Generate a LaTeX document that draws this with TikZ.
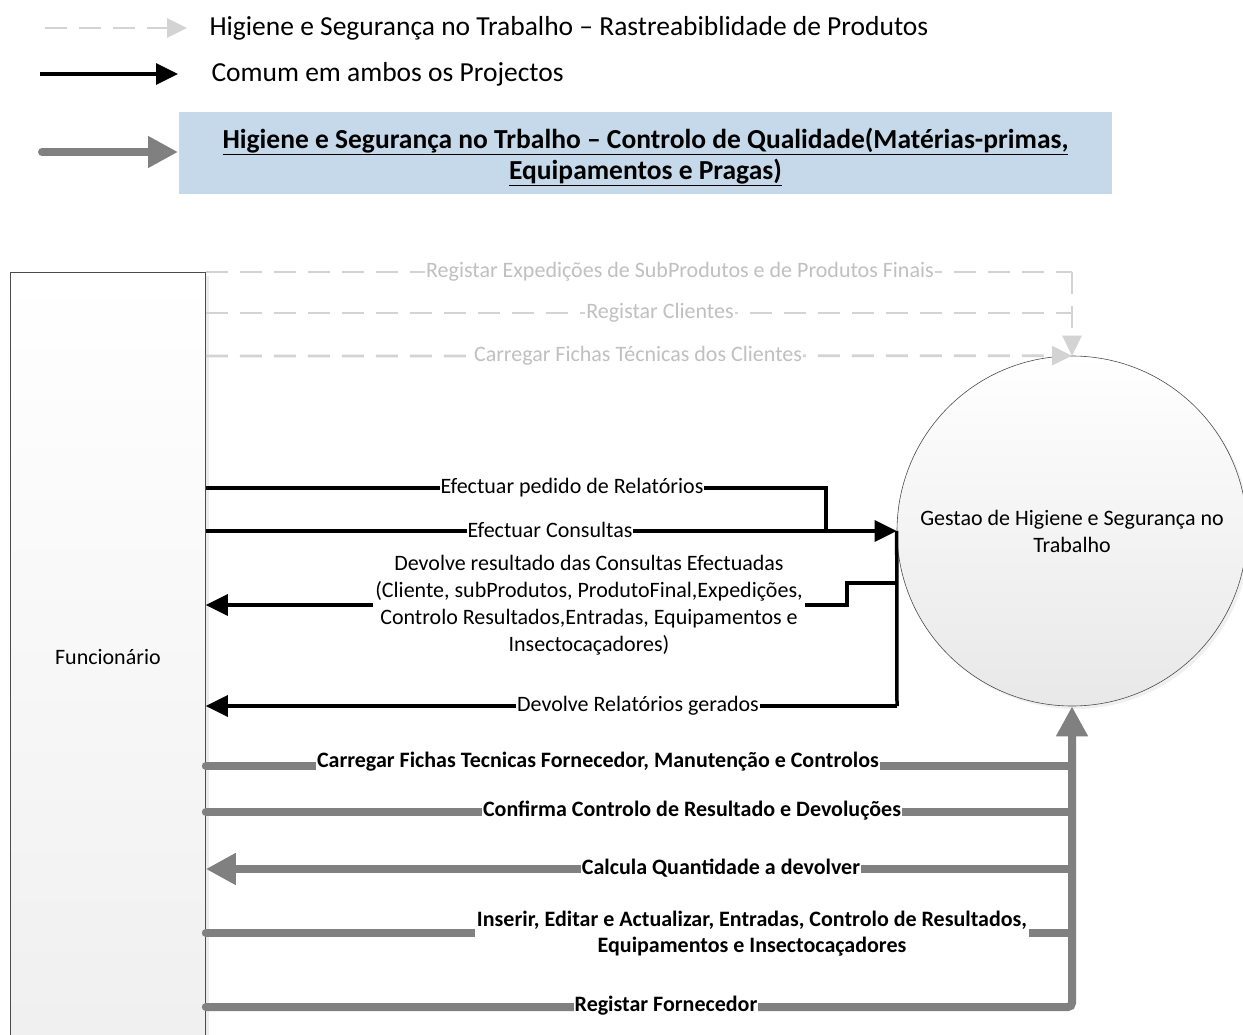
\documentclass[tikz,border=0pt]{standalone}
\usepackage{fontspec}
\setmainfont{Carlito}
\usetikzlibrary{arrows.meta,shadows}
\definecolor{dashgray}{HTML}{D3D3D3}
\definecolor{dashtext}{HTML}{C0C0C0}
\definecolor{flowgray}{HTML}{808080}
\definecolor{boxblue}{HTML}{C5D9EA}
\begin{document}
\begin{tikzpicture}[x=1pt,y=-1pt,
  lbl/.style={fill=white, inner sep=1pt, font=\fontsize{22}{27}\selectfont, align=center},
  dlbl/.style={lbl, text=dashtext},
  blbl/.style={lbl, font=\fontsize{22}{26}\selectfont\bfseries},
  dsh/.style={draw=dashgray, line width=2.8pt, dash pattern=on 22pt off 12pt},
  dtip/.style={-{Triangle[length=20pt,width=19pt]}},
  blk/.style={draw=black, line width=3.5pt},
  btip/.style={-{Triangle[length=22pt,width=21pt]}},
  gry/.style={draw=flowgray, line width=8pt, line cap=round},
  gtip/.style={-{Triangle[length=30pt,width=30pt]}},
  legtext/.style={anchor=west, font=\fontsize{27.5}{33}\selectfont},
]
\useasboundingbox (0,0) rectangle (1243,1035);

% ---------- legend ----------
\coordinate (la1) at (45,28);  \coordinate (lb1) at (187,28);
\coordinate (la2) at (40,74);  \coordinate (lb2) at (178,74);
\coordinate (la3) at (42,152); \coordinate (lb3) at (178,152);
\draw[dsh, dtip] (la1) -- (lb1);
\draw[blk, btip] (la2) -- (lb2);
\draw[gry, gtip] (la3) -- (lb3);
\node[legtext] (lt1) at (206,28) {Higiene e Segurança no Trabalho – Rastreabiblidade de Produtos};
\node[legtext] (lt2) at (208,74) {Comum em ambos os Projectos};
\node[fill=boxblue, minimum width=933pt, minimum height=82pt] (qbox) at (645.5,153) {};
\node[align=center, font=\fontsize{27.5}{31}\selectfont\bfseries] (qtext) at (645.5,157)
  {\underline{Higiene e Segurança no Trbalho – Controlo de Qualidade(Matérias-primas,}\\
   \underline{Equipamentos e Pragas)}};

% ---------- actors ----------
\node[draw=black!70, line width=0.8pt, top color=white, bottom color=black!6,
      minimum width=195pt, minimum height=770pt, anchor=north west, inner sep=0,
      font=\fontsize{22}{27}\selectfont,
      drop shadow={opacity=0.15, shadow xshift=4pt, shadow yshift=-4pt}]
  (func) at (10,272) {Funcionário};
\node[circle, draw=black!70, line width=0.6pt, minimum size=350pt, inner sep=0,
      top color=white, bottom color=black!9, align=center,
      font=\fontsize{22}{27}\selectfont,
      drop shadow={opacity=0.12, shadow xshift=3pt, shadow yshift=-3pt}]
  (gest) at (1072,531) {Gestao de Higiene e Segurança no\\Trabalho};

% ---------- dashed flows (traceability) ----------
\coordinate (d1) at (1072,272);
\coordinate (d2) at (1072,313);
\coordinate (d3) at (1072,356);
\draw[dsh] (func.north east) -- (d1);
\draw[dsh, dtip] (d1) -- (gest.north);
\draw[dsh] (func.east |- d2) -- (d2);
\draw[dsh, dtip] (func.east |- d3) -- (gest.north);
\node[dlbl] (dl1) at (680,272) {Registar Expedições de SubProdutos e de Produtos Finais};
\node[dlbl] (dl2) at (660,313) {Registar Clientes};
\node[dlbl] (dl3) at (638,356) {Carregar Fichas Técnicas dos Clientes};

% ---------- black flows (common) ----------
\coordinate (b1) at (826,488);
\coordinate (b1d) at (826,531);
\coordinate (b3a) at (897,583);
\coordinate (b3b) at (847,583);
\coordinate (b3c) at (847,605);
\coordinate (b4) at (897,706);
\draw[blk, line join=miter] (func.east |- b1) -- (b1) -- (b1d);
\draw[blk, btip] (func.east |- gest.west) -- (gest.west);
\draw[blk, line join=miter] (gest.west) -- (b4);
\draw[blk, btip, line join=miter] (b3a) -- (b3b) -- (b3c) -- (func.east |- b3c);
\draw[blk, btip, line join=miter] (b4) -- (func.east |- b4);
\node[lbl] (bl1) at (572,488) {Efectuar pedido de Relatórios};
\node[lbl] (bl2) at (550,530) {Efectuar Consultas};
\node[lbl, inner sep=2pt] (bl3) at (589,605) {Devolve resultado das Consultas Efectuadas\\
  (Cliente, subProdutos, ProdutoFinal,Expedições,\\
  Controlo Resultados,Entradas, Equipamentos e\\
  Insectocaçadores)};
\node[lbl] (bl4) at (638,706) {Devolve Relatórios gerados};

% ---------- grey flows (quality control) ----------
\coordinate (t1) at (1072,766);
\coordinate (t2) at (1072,812);
\coordinate (t3) at (1072,869);
\coordinate (t4) at (1072,933);
\coordinate (t5) at (1072,1007);
\draw[gry] (func.east |- t1) -- (t1);
\draw[gry] (func.east |- t2) -- (t2);
\draw[gry, gtip] (t3) -- (func.east |- t3);
\draw[gry] (func.east |- t4) -- (t4);
\draw[gry, gtip, rounded corners=4pt] (func.east |- t5) -- (t5) -- (gest.south);
\node[blbl] (gl1) at (598,762) {Carregar Fichas Tecnicas Fornecedor, Manutenção e Controlos};
\node[blbl] (gl2) at (692,811) {Confirma Controlo de Resultado e Devoluções};
\node[blbl] (gl3) at (721,868) {Calcula Quantidade a devolver};
\node[blbl, inner sep=2pt] (gl4) at (752,934) {Inserir, Editar e Actualizar, Entradas, Controlo de Resultados,\\
  Equipamentos e Insectocaçadores};
\node[blbl] (gl5) at (666,1006) {Registar Fornecedor};
\end{tikzpicture}
\end{document}
